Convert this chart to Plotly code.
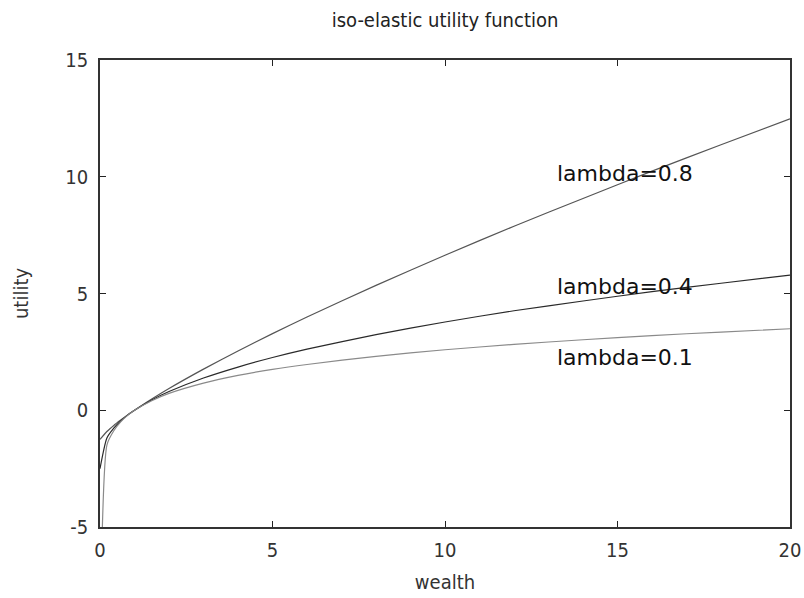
import plotly.graph_objects as go

# wealth sample points
wealth = [0, 0.2, 0.4, 0.6, 0.8, 1.0, 1.5, 2, 3, 4, 5, 6, 8, 10, 12, 14, 16, 18, 20]

# utility values
util_08 = [-1.25, -0.91, -0.65, -0.42, -0.20, 0.0, 0.48, 0.93, 1.76, 2.54, 3.28, 3.99,
           5.35, 6.64, 7.88, 9.07, 10.24, 11.37, 12.48]
util_04 = [-2.5, -1.19, -0.77, -0.46, -0.21, 0.0, 0.44, 0.80, 1.38, 1.85, 2.26, 2.62,
           3.24, 3.78, 4.26, 4.68, 5.08, 5.44, 5.79]
util_01 = [-10.0, -1.49, -0.88, -0.50, -0.22, 0.0, 0.41, 0.72, 1.16, 1.49, 1.75, 1.96,
           2.31, 2.59, 2.82, 3.02, 3.20, 3.35, 3.49]

series_names = ["lambda=0.8", "lambda=0.4", "lambda=0.1"]
label_x = [13.2, 13.2, 13.2]
label_y = [10.13, 5.28, 2.28]

x_ticks = [0, 5, 10, 15, 20]
x_tick_text = ["0", "5", "10", "15", "20"]
y_ticks = [-5, 0, 5, 10, 15]
y_tick_text = ["-5", "0", "5", "10", "15"]

colors = ["#555555", "#2a2a2a", "#8a8a8a"]

fig = go.Figure()
for name, ys, c in zip(series_names, [util_08, util_04, util_01], colors):
    fig.add_trace(go.Scatter(x=wealth, y=ys, mode="lines", name=name,
                             line=dict(color=c, width=1.2, shape="spline", smoothing=0.6),
                             showlegend=False))

for name, lx, ly in zip(series_names, label_x, label_y):
    fig.add_annotation(x=lx, y=ly, text=name, showarrow=False, xanchor="left",
                       yanchor="middle",
                       font=dict(family="DejaVu Sans", size=22, color="#111111"))

axis_font = dict(family="DejaVu Sans Condensed, sans-serif", size=20, color="#333333")

fig.update_layout(
    width=804, height=598,
    margin=dict(l=100, r=14, t=60, b=71),
    plot_bgcolor="white", paper_bgcolor="white",
    title=dict(text="iso-elastic utility function", x=0.5, xref="paper",
               y=1 - 20 / 598, yref="container", yanchor="middle",
               font=dict(family="DejaVu Sans Condensed, sans-serif", size=20,
                         color="#222222")),
    xaxis=dict(range=[0, 20], tickvals=x_ticks, ticktext=x_tick_text,
               ticks="inside", ticklen=6,
               tickcolor="#222222", showline=True, linecolor="#333333", linewidth=1.5,
               mirror="ticks", showgrid=False, zeroline=False, tickfont=axis_font,
               automargin=False, ticklabelstandoff=4, ticklabeloverflow="allow",
               title=dict(text="wealth", font=axis_font, standoff=14)),
    yaxis=dict(range=[-5, 15], tickvals=y_ticks, ticktext=y_tick_text,
               ticks="inside", ticklen=6,
               tickcolor="#222222", showline=True, linecolor="#333333", linewidth=1.5,
               mirror="ticks", showgrid=False, zeroline=False, tickfont=axis_font,
               automargin=False, ticklabelstandoff=6,
               title=dict(text="utility", font=axis_font, standoff=31)),
)

# remove the browser's default page margin so the figure sits at the window origin
fig.write_html("out.html",
               config={"displayModeBar": False},
               post_script="document.body.style.margin='0';document.body.style.overflow='hidden';")
